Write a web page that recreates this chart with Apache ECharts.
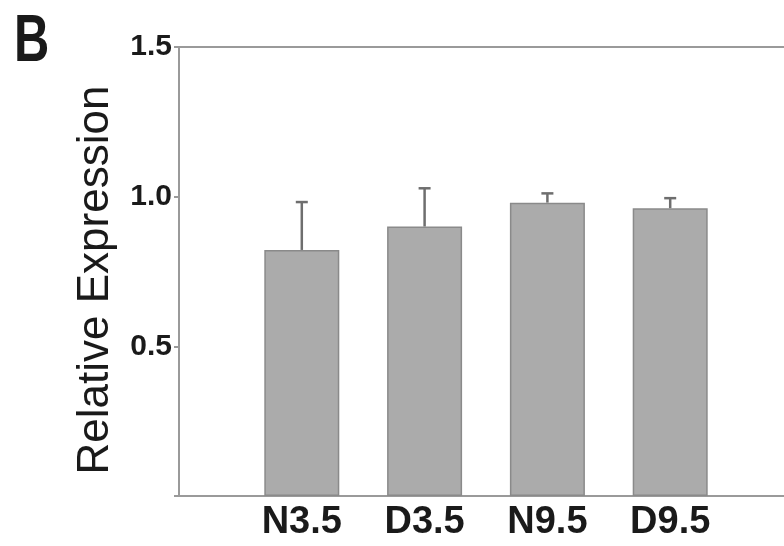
<!DOCTYPE html>
<html>
<head>
<meta charset="utf-8">
<script src="https://cdn.jsdelivr.net/npm/echarts@6/dist/echarts.min.js"></script>
<style>html,body{margin:0;padding:0;background:#fff;}#c{width:784px;height:546px;}</style>
</head>
<body>
<div id="c"></div>
<script>
const categories = ['N3.5', 'D3.5', 'N9.5', 'D9.5'];
const means = [0.822, 0.900, 0.980, 0.961];
const errors = [0.160, 0.128, 0.031, 0.034];
const yTicks = [0.5, 1.0, 1.5];

const axisCats = [''].concat(categories, ['']);
const barData = [null].concat(means, [null]);
const errData = means.map((m, i) => [i + 1, m, m + errors[i]]);

const chart = echarts.init(document.getElementById('c'));
chart.setOption({
  backgroundColor: '#ffffff',
  animation: false,
  graphic: [{
    type: 'text', x: 14, y: 10, scaleX: 0.74,
    style: { text: 'B', font: 'bold 66px "Liberation Sans", sans-serif', fill: '#1a1a1a', align: 'left', verticalAlign: 'top' }
  }, {
    type: 'text', x: 96, y: 280, rotation: Math.PI / 2,
    style: {
      text: 'Relative Expression', font: '44px "Liberation Sans", sans-serif', fill: '#1a1a1a',
      align: 'center', verticalAlign: 'middle'
    }
  }],
  grid: { left: 179, top: 47, width: 614, bottom: 50, outerBoundsMode: 'none', containLabel: false },
  xAxis: [{
    type: 'category', data: axisCats, boundaryGap: false,
    axisLine: { lineStyle: { color: '#9a9a9a', width: 2 } },
    axisTick: { show: false },
    axisLabel: { fontFamily: 'Liberation Sans', fontWeight: 'bold', fontSize: 38, color: '#1a1a1a', margin: 8, interval: 0 }
  }, {
    type: 'category', data: axisCats, boundaryGap: false, position: 'top',
    axisLine: { lineStyle: { color: '#9a9a9a', width: 2 } },
    axisTick: { show: false }, axisLabel: { show: false }
  }],
  yAxis: {
    type: 'value', min: 0, max: 1.5, interval: 0.5,
    axisLine: { show: true, lineStyle: { color: '#9a9a9a', width: 2 } },
    axisTick: { show: true, length: 5, lineStyle: { color: '#9a9a9a', width: 2 } },
    splitLine: { show: false },
    axisLabel: {
      fontFamily: 'Liberation Sans', fontWeight: 'bold', fontSize: 30, color: '#1a1a1a', margin: 7,
      formatter: v => (yTicks.indexOf(v) >= 0 ? v.toFixed(1) : '')
    }
  },
  series: [{
    type: 'bar', data: barData, barWidth: 75,
    itemStyle: { color: '#ababab', borderColor: '#8a8a8a', borderWidth: 1.5 }
  }, {
    type: 'custom', data: errData, z: 1,
    renderItem: function (params, api) {
      const base = api.coord([api.value(0), api.value(1)]);
      const top = api.coord([api.value(0), api.value(2)]);
      const hw = 6;
      const st = { stroke: '#6e6e6e', lineWidth: 2.5 };
      return {
        type: 'group', children: [
          { type: 'line', shape: { x1: base[0], y1: base[1], x2: top[0], y2: top[1] }, style: st },
          { type: 'line', shape: { x1: top[0] - hw, y1: top[1], x2: top[0] + hw, y2: top[1] }, style: st }
        ]
      };
    }
  }]
});
</script>
</body>
</html>
